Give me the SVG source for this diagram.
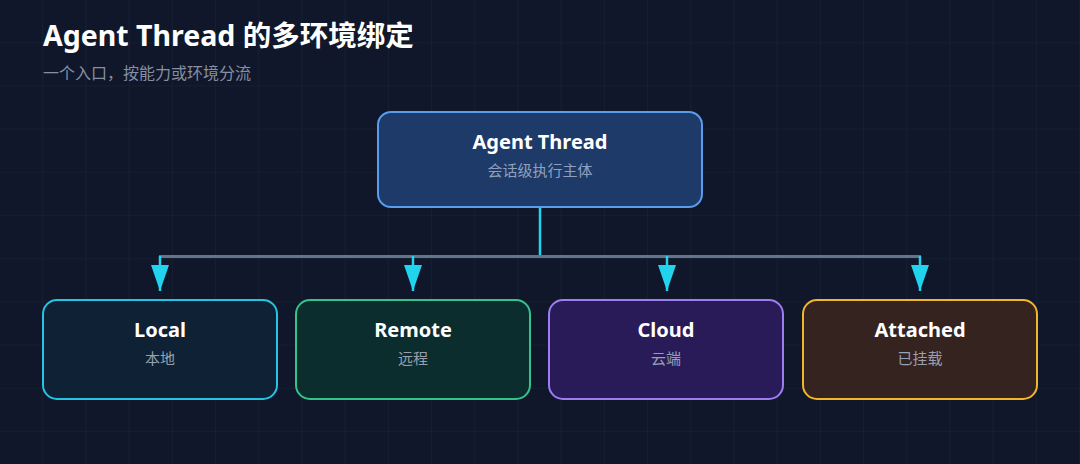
<svg xmlns="http://www.w3.org/2000/svg" width="1080" height="464" viewBox="0 0 1080 464">
  <defs>
    <pattern id="grid" width="43.2" height="43.2" patternUnits="userSpaceOnUse">
      <path d="M43.2 0 V43.2 M0 43.2 H43.2" fill="none" stroke="#1a2336" stroke-width="1.2"/>
    </pattern>
    <marker id="arrow" viewBox="0 0 26 18" refX="26" refY="9" markerWidth="26" markerHeight="18" markerUnits="userSpaceOnUse" orient="auto">
      <path d="M0 0 L26 9 L0 18 Z" fill="#22d3ee"/>
    </marker>
    <style>
      .t { font-family: "Noto Sans", "Noto Sans CJK SC", sans-serif; }
      .nt { font-family: "Noto Sans", "Noto Sans CJK SC", sans-serif; font-size: 20px; font-weight: 700; fill: #ffffff; text-anchor: middle; }
      .ns { font-family: "Noto Sans CJK SC", sans-serif; font-size: 15px; fill: #98a0b0; text-anchor: middle; }
      .box { stroke-width: 2; }
      .drop { stroke: #22d3ee; stroke-width: 2.5; fill: none; }
    </style>
  </defs>
  <rect width="1080" height="464" fill="#10172a"/>
  <rect width="1080" height="464" fill="url(#grid)"/>

  <text class="t" x="43" y="46" font-size="28.5" font-weight="700" fill="#ffffff">Agent Thread 的多环境绑定</text>
  <text x="43" y="79" font-family="Noto Sans CJK SC, sans-serif" font-size="16" fill="#8590a3">一个入口，按能力或环境分流</text>

  <g id="connectors">
    <line x1="540" y1="208" x2="540" y2="256" stroke="#22d3ee" stroke-width="2.5"/>
    <line x1="159" y1="256.5" x2="921" y2="256.5" stroke="#64748b" stroke-width="3"/>
    <line class="drop" x1="160" y1="256" x2="160" y2="291" marker-end="url(#arrow)"/>
    <line class="drop" x1="413" y1="256" x2="413" y2="291" marker-end="url(#arrow)"/>
    <line class="drop" x1="667" y1="256" x2="667" y2="291" marker-end="url(#arrow)"/>
    <line class="drop" x1="920" y1="256" x2="920" y2="291" marker-end="url(#arrow)"/>
  </g>

  <g id="agent-thread">
    <rect class="box" x="378" y="112" width="324" height="95" rx="13" fill="#1e3a68" stroke="#5a9cf0"/>
    <text class="nt" x="540" y="149">Agent Thread</text>
    <text class="ns" x="540" y="176" style="fill:#8fa0bf">会话级执行主体</text>
  </g>

  <g id="local">
    <rect class="box" x="43" y="300" width="234" height="99" rx="14" fill="#0f2134" stroke="#25c4e2"/>
    <text class="nt" x="160" y="337">Local</text>
    <text class="ns" x="160" y="364">本地</text>
  </g>

  <g id="remote">
    <rect class="box" x="296" y="300" width="234" height="99" rx="14" fill="#0c2d2e" stroke="#33c38b"/>
    <text class="nt" x="413" y="337">Remote</text>
    <text class="ns" x="413" y="364">远程</text>
  </g>

  <g id="cloud">
    <rect class="box" x="549" y="300" width="234" height="99" rx="14" fill="#291b58" stroke="#9c7ef2"/>
    <text class="nt" x="666" y="337">Cloud</text>
    <text class="ns" x="666" y="364">云端</text>
  </g>

  <g id="attached">
    <rect class="box" x="803" y="300" width="234" height="99" rx="14" fill="#352320" stroke="#f2b52c"/>
    <text class="nt" x="920" y="337">Attached</text>
    <text class="ns" x="920" y="364">已挂载</text>
  </g>
</svg>
